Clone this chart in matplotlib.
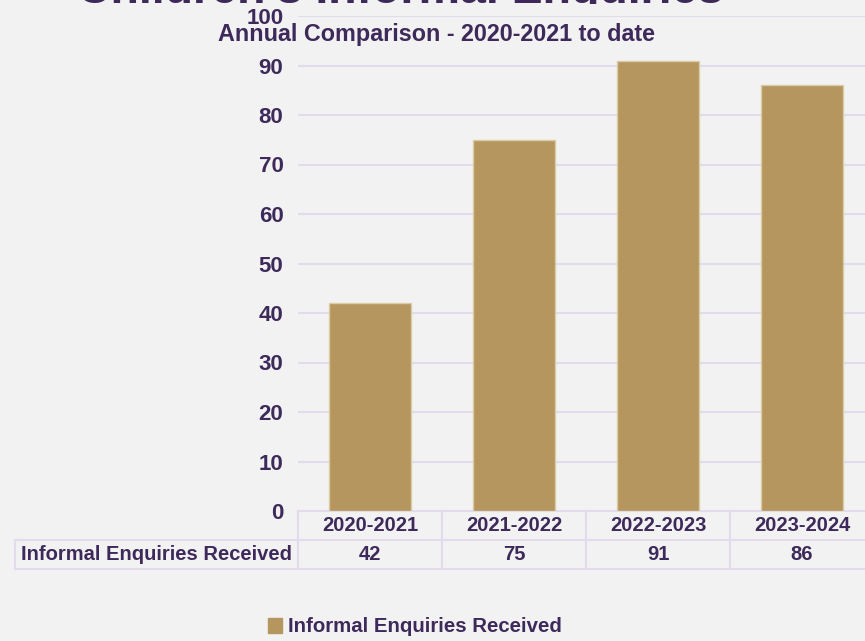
import matplotlib
matplotlib.use("Agg")
import matplotlib.pyplot as plt
from matplotlib.transforms import blended_transform_factory, IdentityTransform, Bbox
from matplotlib.patches import Patch

# Data
categories = ["2020-2021", "2021-2022", "2022-2023", "2023-2024"]
values = [42, 75, 91, 86]
series_name = "Informal Enquiries Received"
yticks = [0, 10, 20, 30, 40, 50, 60, 70, 80, 90, 100]

title = "Children's Informal Enquiries"
subtitle = "Annual Comparison - 2020-2021 to date"

# Styling
BG = "#f2f2f2"
TXT = "#3e2a5a"
BAR = "#b5965e"
BAR_EDGE = "#dccca6"
GRID = "#e1dbeb"
FONT = "Liberation Sans"
FS = 14.5

W, H = 865, 641
fig = plt.figure(figsize=(W / 100, H / 100), dpi=100, facecolor=BG)


def fy(py):
    """Convert a pixel row (from top) into a figure fraction."""
    return 1 - py / H


def fx(px):
    return px / W


left_px, right_px = 298, 874
bottom_px, top_px = 511, 16
ax = fig.add_axes([fx(left_px), fy(bottom_px),
                   (right_px - left_px) / W, (bottom_px - top_px) / H])
ax.set_facecolor(BG)

x = list(range(len(categories)))
ax.bar(x, values, width=0.57, color=BAR, edgecolor=BAR_EDGE, linewidth=1, zorder=3)
ax.set_xlim(-0.5, len(categories) - 0.5)
ax.set_ylim(0, 100)
ax.set_yticks(yticks)
ax.set_yticklabels([str(t) for t in yticks], fontsize=16, fontweight="bold",
                   color=TXT, fontfamily=FONT)
ax.tick_params(axis="y", length=0, pad=10.5)
ax.set_xticks([])
ax.grid(axis="y", color=GRID, linewidth=1.5, zorder=0)
for s in ax.spines.values():
    s.set_visible(False)

# Data table under the plot
tr = blended_transform_factory(ax.transData, fig.transFigure)
lw = 1.5
for i in range(len(categories) + 1):
    xb = i - 0.5
    ax.plot([xb, xb], [fy(511), fy(569)], transform=tr, color=GRID, lw=lw, clip_on=False)
ax.plot([-0.5, len(categories) - 0.5], [fy(511), fy(511)], transform=tr,
        color=GRID, lw=lw, clip_on=False)
for py in (540, 569):
    fig.add_artist(plt.Line2D([fx(15), 1.02], [fy(py), fy(py)], color=GRID, lw=lw,
                              transform=fig.transFigure))
fig.add_artist(plt.Line2D([fx(15), fx(15)], [fy(540), fy(569)], color=GRID, lw=lw,
                          transform=fig.transFigure))

for xi, cat, v in zip(x, categories, values):
    ax.text(xi, fy(525.5), cat, transform=tr, ha="center", va="center",
            fontsize=FS, fontweight="bold", color=TXT, fontfamily=FONT)
    ax.text(xi, fy(554.5), str(v), transform=tr, ha="center", va="center",
            fontsize=FS, fontweight="bold", color=TXT, fontfamily=FONT)
fig.text(fx((15 + 298) / 2), fy(554.5), series_name, ha="center", va="center",
         fontsize=FS, fontweight="bold", color=TXT, fontfamily=FONT)

# Titles
fig.text(fx(437), fy(34), subtitle, ha="center", va="center", fontsize=16.8,
         fontweight="bold", color=TXT, fontfamily=FONT)

# Main heading: only its lowest strip shows along the top edge
heading = fig.text(400, H - 2.7, title, transform=IdentityTransform(), ha="center",
                   va="baseline", fontsize=33.5, fontweight="bold", color=TXT,
                   fontfamily=FONT)
heading.set_clip_box(Bbox.from_extents(0, H - 3.6, W, H + 80))
heading.set_clip_on(True)

# Legend
leg = fig.legend(handles=[Patch(facecolor=BAR, edgecolor=BAR)], labels=[series_name],
                 loc="center", bbox_to_anchor=(fx(415), fy(627)), frameon=False,
                 handlelength=0.7, handleheight=0.7, handletextpad=0.3,
                 prop={"family": FONT, "weight": "bold", "size": 14.7})
for t in leg.get_texts():
    t.set_color(TXT)

fig.savefig("out.png", dpi=100, facecolor=BG)
